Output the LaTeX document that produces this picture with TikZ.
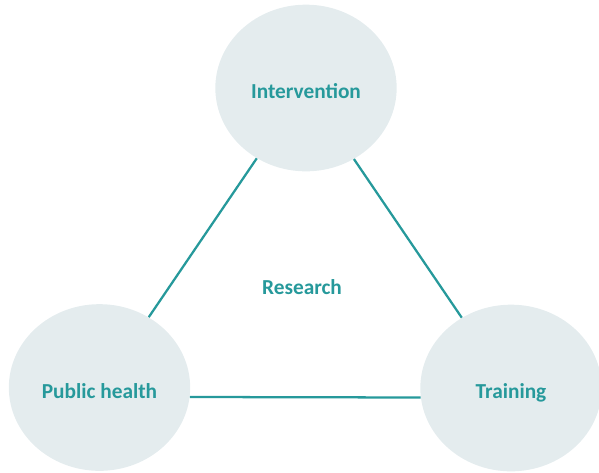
\documentclass[tikz,border=0pt]{standalone}
\usepackage{fontspec}
\setmainfont{Carlito}
\usetikzlibrary{shapes.geometric}
\definecolor{tealline}{HTML}{26999B}
\definecolor{bubble}{HTML}{E4ECEE}
\tikzset{
  bubble/.style={ellipse, fill=bubble, inner sep=0pt, minimum width=136pt, minimum height=125pt,
    text height=19pt, text depth=3pt,
    text=tealline, font=\bfseries\fontsize{16}{18}\selectfont},
  link/.style={draw=tealline, line width=1.7pt}
}

\begin{document}
\begin{tikzpicture}[x=0.75pt,y=-0.75pt]
\useasboundingbox (0,0) rectangle (599,472);

\node[bubble] (int) at (306,88) {Intervention};
\node[bubble] (pub) at (99.5,387.5) {Public health};
\node[bubble] (tra) at (511,388) {Training};

\node[text=tealline, font=\bfseries\fontsize{16}{18}\selectfont] (res) at (302,287) {Research};

\draw[link] (int.235.8) -- (pub.55);
\draw[link] (int.304.2) -- (tra.125);
\draw[link] (pub.-6.8) -- (tra.186.3);
\end{tikzpicture}
\end{document}
